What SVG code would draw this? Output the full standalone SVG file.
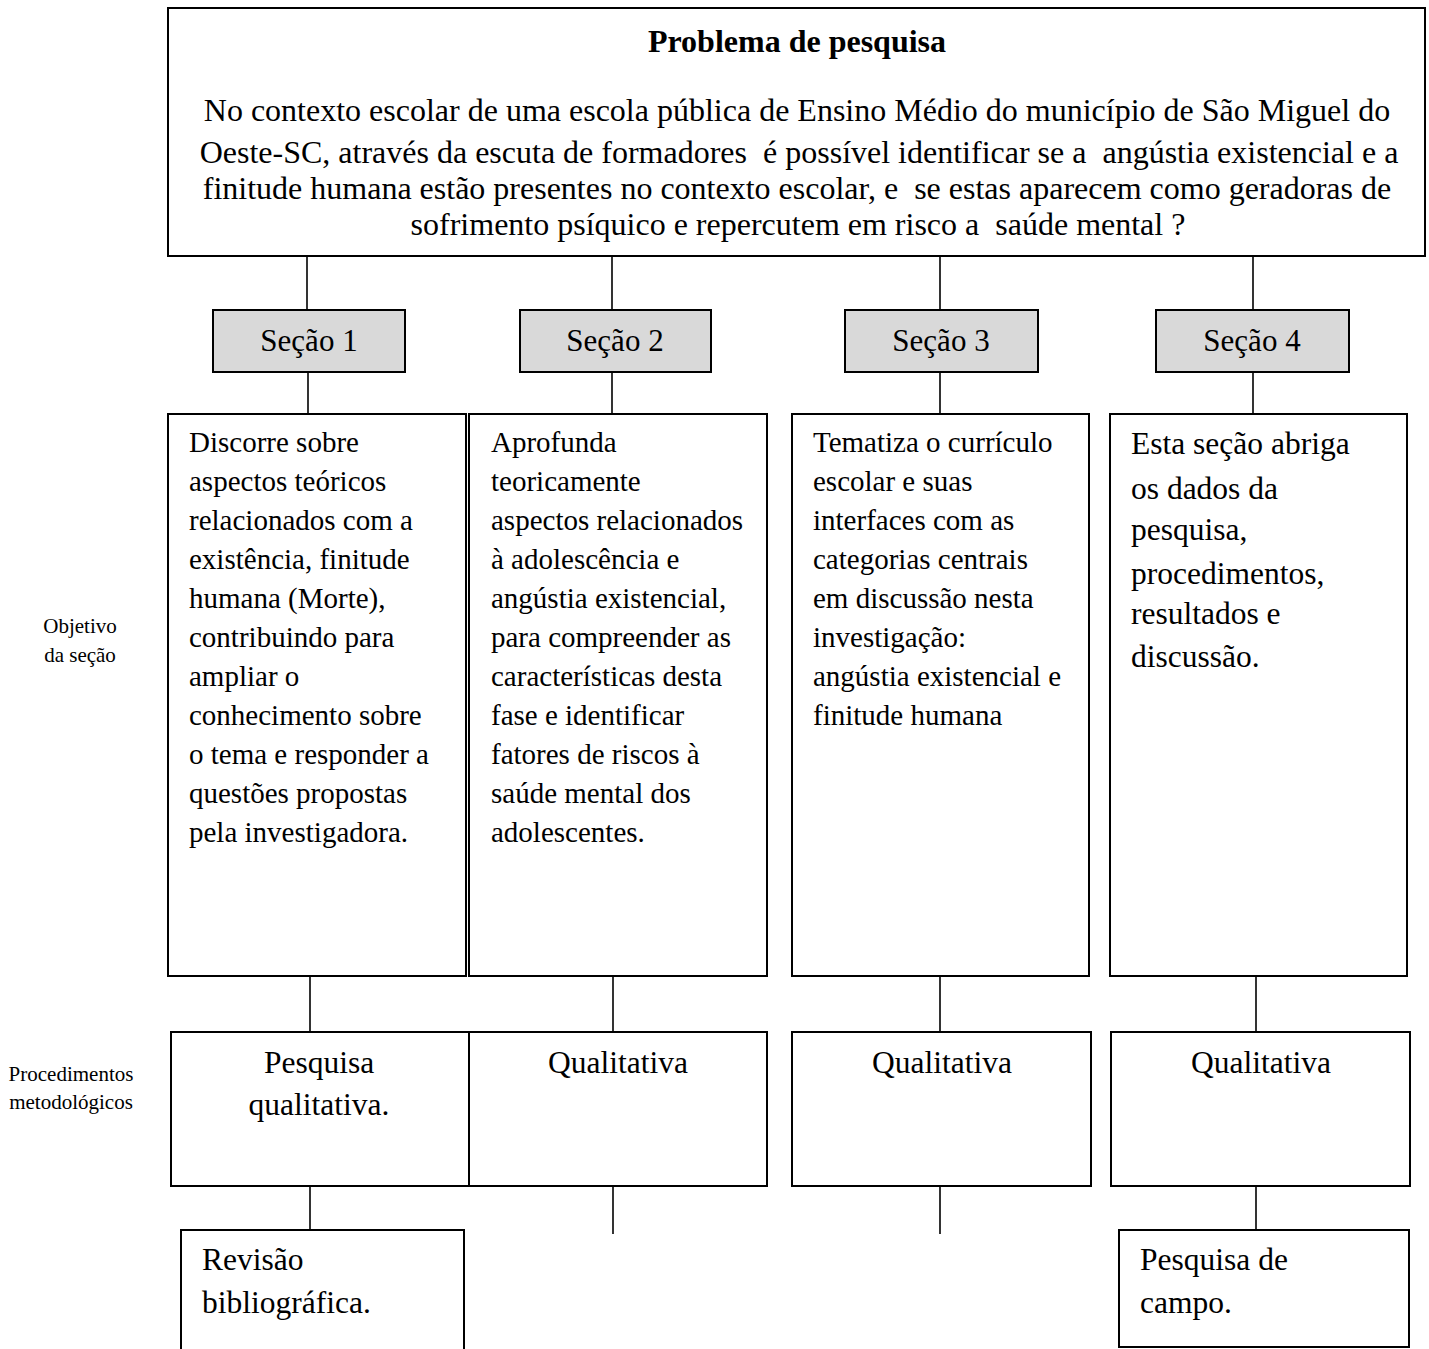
<svg xmlns="http://www.w3.org/2000/svg" width="1429" height="1349" viewBox="0 0 1429 1349">
<style>
  .box { fill: #ffffff; stroke: #000000; stroke-width: 2; }
  .sec { fill: #d9d9d9; stroke: #000000; stroke-width: 2; }
  .open { fill: none; stroke: #000000; stroke-width: 2; }
  .ln { stroke: #000000; stroke-width: 1.6; fill: none; }
  text { font-family: "Liberation Serif", "Times New Roman", serif; fill: #000000; }
  .title { font-size: 32px; font-weight: bold; text-anchor: middle; }
  .body { font-size: 32px; text-anchor: middle; white-space: pre; }
  .seclbl { font-size: 31px; text-anchor: middle; }
  .obj { font-size: 29px; }
  .obj4 { font-size: 31.5px; }
  .proc { font-size: 31.5px; text-anchor: middle; }
  .leaf { font-size: 31.5px; }
  .side { font-size: 21px; text-anchor: middle; }
</style>
<rect width="1429" height="1349" fill="#ffffff"/>

<g id="connectors">
  <line class="ln" x1="307" y1="256" x2="307" y2="310"/>
  <line class="ln" x1="612" y1="256" x2="612" y2="310"/>
  <line class="ln" x1="940" y1="256" x2="940" y2="310"/>
  <line class="ln" x1="1253" y1="256" x2="1253" y2="310"/>
  <line class="ln" x1="308" y1="372" x2="308" y2="414"/>
  <line class="ln" x1="612" y1="372" x2="612" y2="414"/>
  <line class="ln" x1="940" y1="372" x2="940" y2="414"/>
  <line class="ln" x1="1253" y1="372" x2="1253" y2="414"/>
  <line class="ln" x1="310" y1="976" x2="310" y2="1032"/>
  <line class="ln" x1="613" y1="976" x2="613" y2="1032"/>
  <line class="ln" x1="940" y1="976" x2="940" y2="1032"/>
  <line class="ln" x1="1256" y1="976" x2="1256" y2="1032"/>
  <line class="ln" x1="310" y1="1186" x2="310" y2="1230"/>
  <line class="ln" x1="613" y1="1186" x2="613" y2="1234"/>
  <line class="ln" x1="940" y1="1186" x2="940" y2="1234"/>
  <line class="ln" x1="1256" y1="1186" x2="1256" y2="1230"/>
</g>

<g id="problema">
  <rect class="box" x="168" y="8" width="1257" height="248"/>
  <text class="title" x="797" y="52">Problema de pesquisa</text>
  <text class="body" xml:space="preserve" x="797" y="121">No contexto escolar de uma escola pública de Ensino Médio do município de São Miguel do</text>
  <text class="body" xml:space="preserve" x="799" y="163">Oeste-SC, através da escuta de formadores  é possível identificar se a  angústia existencial e a</text>
  <text class="body" xml:space="preserve" x="797" y="199">finitude humana estão presentes no contexto escolar, e  se estas aparecem como geradoras de</text>
  <text class="body" xml:space="preserve" x="798" y="235">sofrimento psíquico e repercutem em risco a  saúde mental ?</text>
</g>

<g id="secao1">
  <rect class="sec" x="213" y="310" width="192" height="62"/>
  <text class="seclbl" x="309" y="351">Seção 1</text>
</g>
<g id="secao2">
  <rect class="sec" x="520" y="310" width="191" height="62"/>
  <text class="seclbl" x="615" y="351">Seção 2</text>
</g>
<g id="secao3">
  <rect class="sec" x="845" y="310" width="193" height="62"/>
  <text class="seclbl" x="941" y="351">Seção 3</text>
</g>
<g id="secao4">
  <rect class="sec" x="1156" y="310" width="193" height="62"/>
  <text class="seclbl" x="1252" y="351">Seção 4</text>
</g>

<g id="objetivo1">
  <rect class="box" x="168" y="414" width="298" height="562"/>
  <text class="obj" x="189" y="452">
    <tspan x="189" y="452">Discorre sobre</tspan>
    <tspan x="189" y="491">aspectos teóricos</tspan>
    <tspan x="189" y="530">relacionados com a</tspan>
    <tspan x="189" y="569">existência, finitude</tspan>
    <tspan x="189" y="608">humana (Morte),</tspan>
    <tspan x="189" y="647">contribuindo para</tspan>
    <tspan x="189" y="686">ampliar o</tspan>
    <tspan x="189" y="725">conhecimento sobre</tspan>
    <tspan x="189" y="764">o tema e responder a</tspan>
    <tspan x="189" y="803">questões propostas</tspan>
    <tspan x="189" y="842">pela investigadora.</tspan>
  </text>
</g>
<g id="objetivo2">
  <rect class="box" x="469" y="414" width="298" height="562"/>
  <text class="obj" x="491" y="452">
    <tspan x="491" y="452">Aprofunda</tspan>
    <tspan x="491" y="491">teoricamente</tspan>
    <tspan x="491" y="530">aspectos relacionados</tspan>
    <tspan x="491" y="569">à adolescência e</tspan>
    <tspan x="491" y="608">angústia existencial,</tspan>
    <tspan x="491" y="647">para compreender as</tspan>
    <tspan x="491" y="686">características desta</tspan>
    <tspan x="491" y="725">fase e identificar</tspan>
    <tspan x="491" y="764">fatores de riscos à</tspan>
    <tspan x="491" y="803">saúde mental dos</tspan>
    <tspan x="491" y="842">adolescentes.</tspan>
  </text>
</g>
<g id="objetivo3">
  <rect class="box" x="792" y="414" width="297" height="562"/>
  <text class="obj" x="813" y="452">
    <tspan x="813" y="452">Tematiza o currículo</tspan>
    <tspan x="813" y="491">escolar e suas</tspan>
    <tspan x="813" y="530">interfaces com as</tspan>
    <tspan x="813" y="569">categorias centrais</tspan>
    <tspan x="813" y="608">em discussão nesta</tspan>
    <tspan x="813" y="647">investigação:</tspan>
    <tspan x="813" y="686">angústia existencial e</tspan>
    <tspan x="813" y="725">finitude humana</tspan>
  </text>
</g>
<g id="objetivo4">
  <rect class="box" x="1110" y="414" width="297" height="562"/>
  <text class="obj4" x="1131" y="453">
    <tspan x="1131" y="454">Esta seção abriga</tspan>
    <tspan x="1131" y="499">os dados da</tspan>
    <tspan x="1131" y="540">pesquisa,</tspan>
    <tspan x="1131" y="584">procedimentos,</tspan>
    <tspan x="1131" y="624">resultados e</tspan>
    <tspan x="1131" y="667">discussão.</tspan>
  </text>
</g>

<g id="proc1">
  <rect class="box" x="171" y="1032" width="298" height="154"/>
  <text class="proc" x="319" y="1073">Pesquisa</text>
  <text class="proc" x="319" y="1115">qualitativa.</text>
</g>
<g id="proc2">
  <rect class="box" x="469" y="1032" width="298" height="154"/>
  <text class="proc" x="618" y="1073">Qualitativa</text>
</g>
<g id="proc3">
  <rect class="box" x="792" y="1032" width="299" height="154"/>
  <text class="proc" x="942" y="1073">Qualitativa</text>
</g>
<g id="proc4">
  <rect class="box" x="1111" y="1032" width="299" height="154"/>
  <text class="proc" x="1261" y="1073">Qualitativa</text>
</g>

<g id="revisao">
  <path class="open" d="M181,1349 V1230 H464 V1349"/>
  <text class="leaf" x="202" y="1270">Revisão</text>
  <text class="leaf" x="202" y="1313">bibliográfica.</text>
</g>
<g id="campo">
  <rect class="box" x="1119" y="1230" width="290" height="117"/>
  <text class="leaf" x="1140" y="1270">Pesquisa de</text>
  <text class="leaf" x="1140" y="1313">campo.</text>
</g>

<g id="label-objetivo">
  <text class="side" x="80" y="633">Objetivo</text>
  <text class="side" x="80" y="662">da seção</text>
</g>
<g id="label-procedimentos">
  <text class="side" x="71" y="1081">Procedimentos</text>
  <text class="side" x="71" y="1109">metodológicos</text>
</g>
</svg>
